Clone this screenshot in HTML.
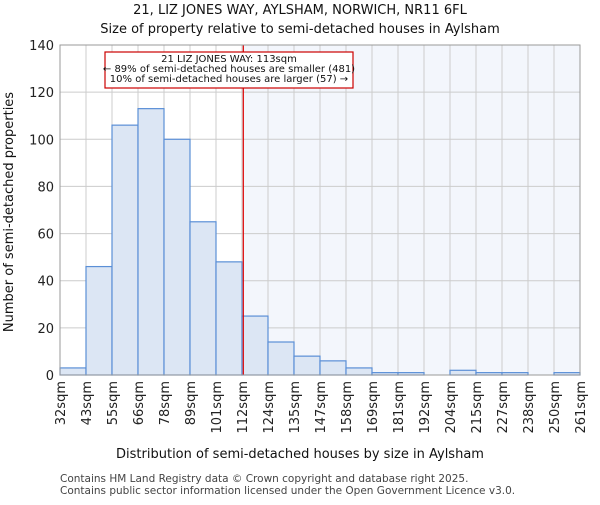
<!DOCTYPE html>
<html><head><meta charset="utf-8"><style>body{margin:0;background:#fff}svg{font-family:"DejaVu Sans","Liberation Sans",sans-serif}</style></head>
<body>
<svg id="c" width="600" height="500" viewBox="0 0 600 500" xmlns="http://www.w3.org/2000/svg"></svg>
<script>
const binLabels=["32sqm","43sqm","55sqm","66sqm","78sqm","89sqm","101sqm","112sqm","124sqm","135sqm","147sqm","158sqm","169sqm","181sqm","192sqm","204sqm","215sqm","227sqm","238sqm","250sqm","261sqm"];
const counts=[3,46,106,113,100,65,48,25,14,8,6,3,1,1,0,2,1,1,0,1];
const yTicks=[0,20,40,60,80,100,120,140];
const propertyBin=7.05;
const X0=60,X1=580,Y0=375,Y1=45,YMAX=140;
const bw=(X1-X0)/counts.length;
const xs=i=>X0+i*bw, ys=v=>Y0-(v/YMAX)*(Y0-Y1);
const svg=document.getElementById('c');const NS='http://www.w3.org/2000/svg';
function mk(t,a,txt){const e=document.createElementNS(NS,t);for(const k in a)e.setAttribute(k,a[k]);if(txt!==undefined)e.textContent=txt;svg.appendChild(e);return e;}
const px=xs(propertyBin);
let e=mk('rect',{x:px,y:Y1,width:X1-px,height:Y0-Y1,fill:'#f3f6fc'});


yTicks.forEach(v=>{const g=mk('line',{x1:X0,x2:X1,y1:ys(v),y2:ys(v),stroke:'#cccccc'});


const t=mk('text',{x:X0-6,y:ys(v)+5,'text-anchor':'end','font-size':13,fill:'#222'},v);

});
binLabels.forEach((l,i)=>{const g=mk('line',{x1:xs(i),x2:xs(i),y1:Y1,y2:Y0,stroke:'#cccccc'});


const t=mk('text',{x:0,y:0,'text-anchor':'end','font-size':13,fill:'#222',transform:`translate(${xs(i)+5},${Y0+6}) rotate(-90)`},l);

});
counts.forEach((v,i)=>{if(v<=0)return;const b=mk('rect',{x:xs(i),y:ys(v),width:bw,height:Y0-ys(v),fill:'#dce6f4',stroke:'#5b8fd6','stroke-width':1.2});

});
e=mk('line',{x1:px,x2:px,y1:Y1,y2:Y0,stroke:'#dd0000','stroke-width':1.2});


e=mk('rect',{x:X0,y:Y1,width:X1-X0,height:Y0-Y1,fill:'none',stroke:'#999'});


e=mk('rect',{x:105,y:52,width:248,height:36,fill:'#fff',stroke:'#cc0000','stroke-width':1.2});


[["21 LIZ JONES WAY: 113sqm",62],["← 89% of semi-detached houses are smaller (481)",72],["10% of semi-detached houses are larger (57) →",82]].forEach(([s,y])=>{const t=mk('text',{x:229,y:y,'text-anchor':'middle','font-size':10,fill:'#111'},s);

});
e=mk('text',{x:300,y:14,'text-anchor':'middle','font-size':13,fill:'#111'},'21, LIZ JONES WAY, AYLSHAM, NORWICH, NR11 6FL');


e=mk('text',{x:300,y:33,'text-anchor':'middle','font-size':13,fill:'#111'},'Size of property relative to semi-detached houses in Aylsham');


e=mk('text',{x:300,y:458,'text-anchor':'middle','font-size':13,fill:'#111'},'Distribution of semi-detached houses by size in Aylsham');


e=mk('text',{x:0,y:0,'text-anchor':'middle','font-size':13,fill:'#111',transform:'translate(13,212) rotate(-90)'},'Number of semi-detached properties');


e=mk('text',{x:60,y:482,'font-size':10.5,fill:'#444'},'Contains HM Land Registry data © Crown copyright and database right 2025.');


e=mk('text',{x:60,y:494,'font-size':10.5,fill:'#444'},'Contains public sector information licensed under the Open Government Licence v3.0.');


</script>
</body></html>
